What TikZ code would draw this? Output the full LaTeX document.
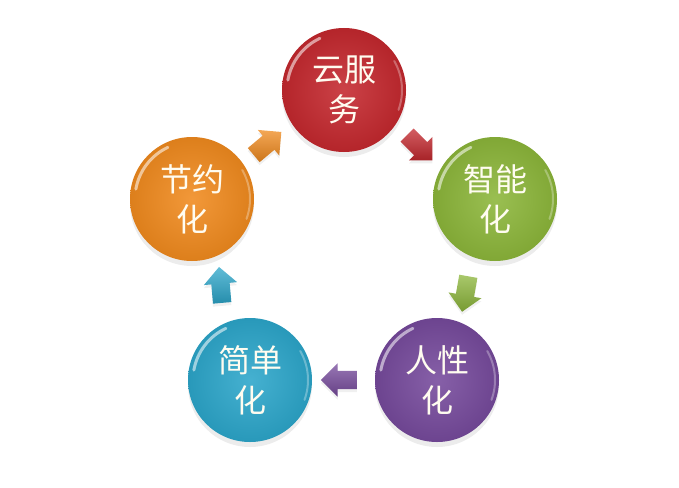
\documentclass[tikz,border=0pt]{standalone}
\usepackage{fontspec}
\newfontfamily\cjk{Noto Sans CJK SC}
\usetikzlibrary{shapes.arrows}
\usetikzlibrary{shadows}
\usetikzlibrary{calc}
\usepackage{xcolor}
\definecolor{cred}{RGB}{196,40,46}
\definecolor{cgreen}{RGB}{140,182,58}
\definecolor{cpurple}{RGB}{118,74,156}
\definecolor{cblue}{RGB}{44,166,202}
\definecolor{corange}{RGB}{240,138,30}
\definecolor{ivory}{RGB}{255,252,240}

\tikzset{
	ball/.style={circle, minimum size=124pt, inner sep=0pt,
		inner color=#1!88!white, outer color=#1!92!black,
		drop shadow={opacity=.15, shadow xshift=0pt, shadow yshift=-5pt},
		text=ivory, align=center, font=\cjk\fontsize{32}{40}\selectfont,
		path picture={
			\draw[white, opacity=.55, line width=3pt, line cap=round]
			(path picture bounding box.center) ++(190:57) arc (190:245:57);
			\draw[white, opacity=.3, line width=2pt, line cap=round]
			(path picture bounding box.center) ++(-30:58) arc (-30:20:58);}},
	turn/.style={single arrow, minimum height=36pt, inner xsep=0pt, inner ysep=9pt,
		single arrow head extend=7.5pt,
		top color=#1!75!white, bottom color=#1!85!black,
		drop shadow={opacity=.12, shadow xshift=0pt, shadow yshift=-3pt}}
}

\begin{document}
\begin{tikzpicture}[x=1pt,y=-1pt]
			%\draw[help lines] (0,0) grid (679,487);
			\useasboundingbox (0,0) rectangle (679,487);
			
			\node[ball=cred]    (cloud)  at (344,90)  {云服\\务};
			\node[ball=cgreen]  (smart)  at (495,199) {智能\\化};
			\node[ball=cpurple] (human)  at (437,380) {人性\\化};
			\node[ball=cblue]   (simple) at (250,380) {简单\\化};
			\node[ball=corange] (save)   at (192,199) {节约\\化};
			
			\node[turn=cred,    rotate=-45]  (cloud-smart)  at ($(cloud)!0.5!(smart)+(-3,0)$) {};
			\node[turn=cgreen,  rotate=-100] (smart-human)  at ($(smart)!0.5!(human)$) {};
			\node[turn=cpurple, rotate=180]  (human-simple) at ($(human)!0.5!(simple)$) {};
			\node[turn=cblue,   rotate=95]   (simple-save)  at ($(simple)!0.5!(save)$) {};
			\node[turn=corange, rotate=40]   (save-cloud)   at ($(save)!0.5!(cloud)+(-4,2)$) {};
			
\end{tikzpicture}
\end{document}
